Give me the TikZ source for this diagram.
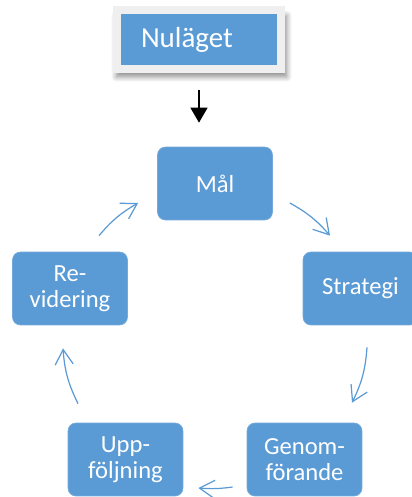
\documentclass[tikz,border=0pt]{standalone}
\usepackage{fontspec}
\setmainfont{Carlito}
\usetikzlibrary{arrows.meta, shadows.blur}

\definecolor{boxblue}{HTML}{5B9BD5}
\definecolor{framegray}{HTML}{EFEFEF}

\begin{document}
\begin{tikzpicture}[
    x=0.02cm, y=0.02cm,
    cyclebox/.style={
        rectangle, rounded corners=0.16cm, draw=boxblue!85!white, thin,
        fill=boxblue, text=white, font=\fontsize{14}{14.5}\selectfont,
        minimum width=2.3cm, minimum height=1.46cm, inner sep=0pt, align=center
    },
    startbox/.style={
        rectangle, draw=framegray, line width=0.16cm, fill=boxblue,
        text=white, font=\fontsize{16.5}{18}\selectfont,
        minimum height=1.18cm, text width=2.32cm, inner xsep=0.48cm, align=left,
        blur shadow={shadow xshift=0.05cm, shadow yshift=-0.13cm,
                     shadow scale=1.04, shadow blur radius=0.1cm,
                     shadow blur steps=8, shadow opacity=45}
    },
    cyclearrow/.style={-{Straight Barb[length=3mm, width=3.6mm]}, draw=boxblue,
        line width=0.7pt},
    startarrow/.style={-{Triangle[length=3mm, width=3.4mm]}, line width=0.85pt,
        shorten <=0.34cm, shorten >=0.48cm}
]
\useasboundingbox (0,0) rectangle (412,-497);

% Starting point
\node[startbox] (nulaget) at (199,-39.5) {Nuläget};

% The five steps of the cycle
\node[cyclebox] (mal)       at (215,-183.5)   {Mål};
\node[cyclebox] (strategi)  at (360.5,-288.5) {Strategi};
\node[cyclebox] (genom)     at (304.5,-459.5) {Genom-\\förande};
\node[cyclebox] (uppfolj)   at (125.5,-459.5) {Upp-\\följning};
\node[cyclebox] (revidering) at (70,-288.5)   {Re-\\videring};

% Arrow into the cycle
\draw[startarrow] (nulaget.south) -- (nulaget.south |- mal.north);

% Arrows round the cycle
\draw[cyclearrow] ([shift={(17,-19.5)}]mal.east)
    to[bend left=10] ([shift={(-30.5,16)}]strategi.north);
\draw[cyclearrow] ([shift={(6.5,-22)}]strategi.south)
    to[bend left=11] ([shift={(47.5,20)}]genom.north);
\draw[cyclearrow] ([shift={(-14,-27.5)}]genom.west)
    to[bend left=6] ([shift={(15,-28.5)}]uppfolj.east);
\draw[cyclearrow] ([shift={(-47.5,19)}]uppfolj.north)
    to[bend left=11] ([shift={(-7,-23)}]revidering.south);
\draw[cyclearrow] ([shift={(29,16)}]revidering.north)
    to[bend left=10] ([shift={(-19,-19.5)}]mal.west);

\end{tikzpicture}
\end{document}
